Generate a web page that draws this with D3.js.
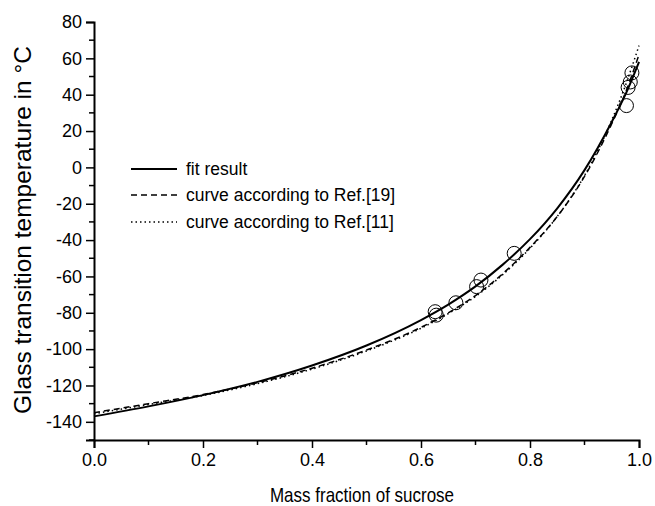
<!DOCTYPE html>
<html>
<head>
<meta charset="utf-8">
<script src="https://cdn.jsdelivr.net/npm/d3@7"></script>
<style>
	body { margin: 0; background: #fff; }
	svg text { font-family: Arial, "Liberation Sans", sans-serif; fill: #000; }
</style>
</head>
<body>
<div id="chart"></div>
<script>
// mass fraction grid for the curves
var massFraction = [0, 0.1, 0.2, 0.3, 0.4, 0.5, 0.6, 0.65, 0.7, 0.75, 0.8, 0.85, 0.9, 0.95, 0.975, 1.0];
var fitResult  = [-137, -131.5, -125.3, -118, -109, -98, -84, -75.5, -65.5, -53.5, -39.5, -22.5, -1.5, 25, 40, 58];
var ref19Curve = [-135, -130, -125, -118.5, -110.5, -100.5, -88, -80, -70.5, -58.5, -44, -27, -5, 24, 41, 62];
var ref11Curve = [-135.5, -130.5, -125.5, -119, -111, -101, -88.5, -80.5, -71, -59, -44.5, -27, -4.5, 26, 45, 67];

// measured points
var measX = [0.626, 0.628, 0.664, 0.702, 0.710, 0.771, 0.977, 0.980, 0.984, 0.987];
var measT = [-79.4, -81.3, -74.5, -65.6, -62, -47.3, 34, 44, 47, 52];

var xTicks = [0, 0.2, 0.4, 0.6, 0.8, 1.0];
var yTicks = [80, 60, 40, 20, 0, -20, -40, -60, -80, -100, -120, -140];

var legendNames = ["fit result", "curve according to Ref.[19]", "curve according to Ref.[11]"];

var W = 655, H = 506;
var plotLeft = 94, plotRight = 639, plotTop = 22, plotBottom = 440;

var svg = d3.select("#chart").append("svg")
	.attr("width", W)
	.attr("height", H);

var x = d3.scaleLinear().domain([0, 1]).range([plotLeft, plotRight]);
var y = d3.scaleLinear().domain([-150, 80]).range([plotBottom, plotTop]);

// axes
var xAxis = svg.append("g")
	.attr("transform", "translate(0," + plotBottom + ")")
	.call(d3.axisBottom(x).tickValues(xTicks).tickFormat(d3.format(".1f")).tickSize(8).tickPadding(5));
xAxis.append("g").selectAll("line")
	.data([0.1, 0.3, 0.5, 0.7, 0.9])
	.enter().append("line")
	.attr("x1", function(d) { return x(d); })
	.attr("x2", function(d) { return x(d); })
	.attr("y1", 0).attr("y2", 5)
	.attr("stroke", "#000").attr("stroke-width", 1.5);

var yAxis = svg.append("g")
	.attr("transform", "translate(" + plotLeft + ",0)")
	.call(d3.axisLeft(y).tickValues(yTicks).tickSize(8).tickPadding(4)
		.tickFormat(function(d) { return String(d); }));
yAxis.append("g").selectAll("line")
	.data([70, 50, 30, 10, -10, -30, -50, -70, -90, -110, -130, -150])
	.enter().append("line")
	.attr("x1", 0).attr("x2", -5)
	.attr("y1", function(d) { return y(d); })
	.attr("y2", function(d) { return y(d); })
	.attr("stroke", "#000").attr("stroke-width", 1.5);

svg.selectAll(".domain").attr("stroke", "#000").attr("stroke-width", 2);
svg.selectAll(".tick line").attr("stroke", "#000").attr("stroke-width", 1.5);
svg.selectAll(".tick text").style("font-size", "18px");

// axis titles
svg.append("text")
	.attr("transform", "translate(362,502) scale(1,1.2)")
	.attr("text-anchor", "middle")
	.style("font-size", "17px")
	.text("Mass fraction of sucrose");

svg.append("text")
	.attr("transform", "translate(31,230) rotate(-90)")
	.attr("text-anchor", "middle")
	.style("font-size", "24.5px")
	.text("Glass transition temperature in \u00B0C");

// curves
var line = d3.line()
	.x(function(d) { return x(d[0]); })
	.y(function(d) { return y(d[1]); })
	.curve(d3.curveMonotoneX);

var styles = [
	{width: 2, dash: null},
	{width: 1.5, dash: "6,4"},
	{width: 1.5, dash: "1.5,3"}
];

[fitResult, ref19Curve, ref11Curve].forEach(function(series, i) {
	svg.append("path")
		.datum(massFraction.map(function(m, j) { return [m, series[j]]; }))
		.attr("d", line)
		.attr("fill", "none")
		.attr("stroke", "#000")
		.attr("stroke-width", styles[i].width)
		.attr("stroke-dasharray", styles[i].dash);
});

// measured points
svg.append("g").selectAll("circle")
	.data(measX)
	.enter().append("circle")
	.attr("cx", function(d) { return x(d); })
	.attr("cy", function(d, i) { return y(measT[i]); })
	.attr("r", 7)
	.attr("fill", "none")
	.attr("stroke", "#000")
	.attr("stroke-width", 1);

// legend
var legendY = [169, 195, 222];
var legend = svg.append("g");
legendNames.forEach(function(name, i) {
	legend.append("line")
		.attr("x1", 131).attr("x2", 177)
		.attr("y1", legendY[i]).attr("y2", legendY[i])
		.attr("stroke", "#000")
		.attr("stroke-width", styles[i].width)
		.attr("stroke-dasharray", styles[i].dash);
	legend.append("text")
		.attr("x", 186).attr("y", legendY[i])
		.attr("dy", "0.35em")
		.style("font-size", "17.5px")
		.text(name);
});
</script>
</body>
</html>
